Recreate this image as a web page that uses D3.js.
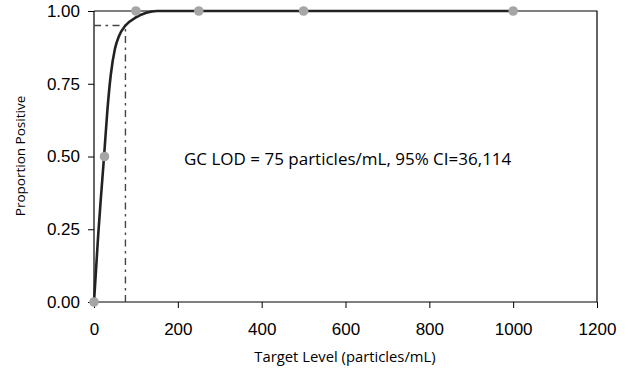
<!DOCTYPE html>
<html>
<head>
<meta charset="utf-8">
<script src="https://cdn.jsdelivr.net/npm/d3@7"></script>
<style>
  body { margin: 0; background: #fff; }
  svg { display: block; }
</style>
</head>
<body>
<div id="chart"></div>
<script>
// observed detection rates
var levels = [0, 25, 100, 250, 500, 1000];
var proportions = [0, 0.5, 1, 1, 1, 1];

// fitted curve
var fitX = [0, 10, 16, 24, 32, 40, 50, 60, 75, 100, 125, 150, 1000];
var fitY = [0, 0.23, 0.35, 0.5, 0.66, 0.78, 0.87, 0.915, 0.95, 0.978, 0.994, 1, 1];

var lod = 75, lodP = 0.95;
var xTicks = [0, 200, 400, 600, 800, 1000, 1200];
var yTicks = [0, 0.25, 0.5, 0.75, 1];
var note = "GC LOD = 75 particles/mL, 95% CI=36,114";

var w = 634, h = 371;
var mLeft = 94, mRight = 597, mTop = 11, mBottom = 302;

var svg = d3.select("#chart").append("svg")
    .attr("width", w)
    .attr("height", h);

var x = d3.scaleLinear().domain([0, 1200]).range([mLeft, mRight]);
var y = d3.scaleLinear().domain([0, 1]).range([mBottom, mTop]);

// frame (top + right)
svg.append("path")
    .attr("d", "M" + mLeft + "," + mTop + "H" + mRight + "V" + mBottom)
    .attr("fill", "none")
    .attr("stroke", "#000")
    .attr("stroke-width", 1.2);

var xAxis = svg.append("g")
    .attr("transform", "translate(0," + mBottom + ")")
    .call(d3.axisBottom(x).tickValues(xTicks).tickSize(6).tickPadding(15).tickFormat(d3.format("d")));
var yAxis = svg.append("g")
    .attr("transform", "translate(" + mLeft + ",0)")
    .call(d3.axisLeft(y).tickValues(yTicks).tickSize(6).tickPadding(8).tickFormat(d3.format(".2f")));

[xAxis, yAxis].forEach(function(g){
    g.select(".domain").attr("stroke", "#000").attr("stroke-width", 1.2);
    g.selectAll(".tick line").attr("stroke", "#000");
    g.selectAll(".tick text")
        .attr("fill", "#000")
        .style("font-family", "'Liberation Sans', Arial, sans-serif")
        .style("font-size", "17px");
});
xAxis.select(".domain").attr("d", "M" + mLeft + ",0H" + mRight);
yAxis.select(".domain").attr("d", "M0," + mTop + "V" + mBottom);

// LOD guide lines (dash-dot)
var dash = "7,4.5,2.5,4.5";
svg.append("line")
    .attr("x1", x(lod)).attr("x2", x(lod))
    .attr("y1", y(0)).attr("y2", y(lodP))
    .attr("stroke", "#444").attr("stroke-width", 1.4)
    .attr("stroke-dasharray", dash);
svg.append("line")
    .attr("x1", x(0)).attr("x2", x(lod))
    .attr("y1", y(lodP)).attr("y2", y(lodP))
    .attr("stroke", "#444").attr("stroke-width", 1.4)
    .attr("stroke-dasharray", dash);

// fitted curve
var fit = fitX.map(function(v, i){ return [v, fitY[i]]; });
svg.append("path")
    .datum(fit)
    .attr("fill", "none")
    .attr("stroke", "#222")
    .attr("stroke-width", 2.6)
    .attr("d", d3.line()
        .x(function(d){ return x(d[0]); })
        .y(function(d){ return y(d[1]); })
        .curve(d3.curveMonotoneX));

// points
svg.selectAll("circle")
    .data(levels.map(function(v, i){ return [v, proportions[i]]; }))
    .enter()
    .append("circle")
    .attr("cx", function(d){ return x(d[0]); })
    .attr("cy", function(d){ return y(d[1]); })
    .attr("r", 4.8)
    .attr("fill", "#a6a6a6");

// annotation
svg.append("text")
    .attr("x", 184)
    .attr("y", 165)
    .text(note)
    .style("font-family", "'Open Sans', 'Noto Sans', sans-serif")
    .style("font-size", "17px")
    .attr("fill", "#000");

// axis titles
svg.append("text")
    .attr("x", 345)
    .attr("y", 362)
    .attr("text-anchor", "middle")
    .text("Target Level (particles/mL)")
    .style("font-family", "'Open Sans', 'Noto Sans', sans-serif")
    .style("font-size", "14.8px")
    .attr("fill", "#000");

svg.append("text")
    .attr("transform", "translate(25,156) rotate(-90)")
    .attr("text-anchor", "middle")
    .text("Proportion Positive")
    .style("font-family", "'Open Sans', 'Noto Sans', sans-serif")
    .style("font-size", "13.5px")
    .attr("fill", "#000");
</script>
</body>
</html>
